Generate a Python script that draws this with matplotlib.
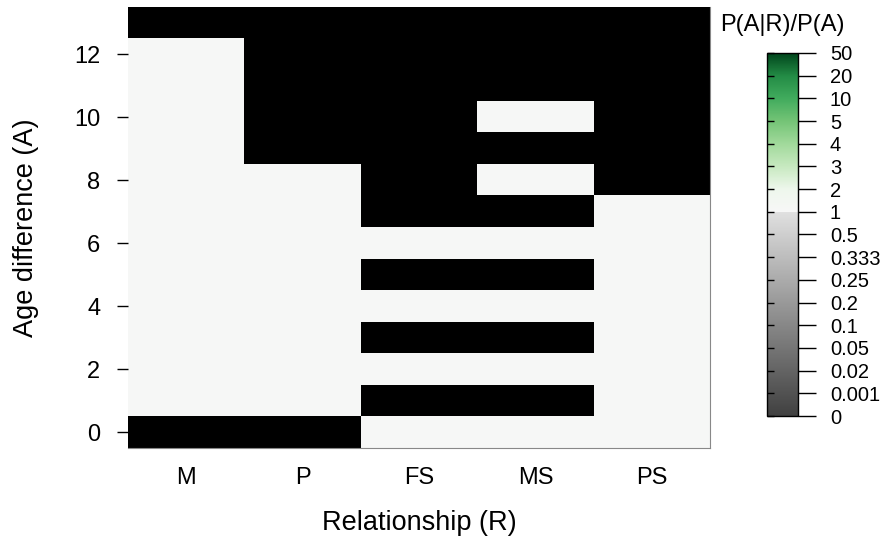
import matplotlib
matplotlib.use("Agg")
import matplotlib.pyplot as plt
import numpy as np
from matplotlib.colors import FuncNorm, LinearSegmentedColormap
from matplotlib.cm import ScalarMappable
from matplotlib.ticker import FixedLocator

plt.rcParams["font.family"] = ["Liberation Sans", "DejaVu Sans"]

relationships = ["M", "P", "FS", "MS", "PS"]
age_diff = list(range(14))

# P(A|R)/P(A) per relationship, age difference 0..13; 0 = never observed
ratio_M = [0, 1, 1, 1, 1, 1, 1, 1, 1, 1, 1, 1, 1, 0]
ratio_P = [0, 1, 1, 1, 1, 1, 1, 1, 1, 0, 0, 0, 0, 0]
ratio_FS = [1, 0, 1, 0, 1, 0, 1, 0, 0, 0, 0, 0, 0, 0]
ratio_MS = [1, 0, 1, 0, 1, 0, 1, 0, 1, 0, 1, 0, 0, 0]
ratio_PS = [1, 1, 1, 1, 1, 1, 1, 1, 0, 0, 0, 0, 0, 0]

cbar_levels = [0, 0.001, 0.02, 0.05, 0.1, 0.2, 0.25, 0.333, 0.5,
               1, 2, 3, 4, 5, 10, 20, 50]
cbar_labels = ["0", "0.001", "0.02", "0.05", "0.1", "0.2", "0.25", "0.333", "0.5",
               "1", "2", "3", "4", "5", "10", "20", "50"]

matrix = np.array([ratio_M, ratio_P, ratio_FS, ratio_MS, ratio_PS], dtype=float).T
# zero-probability cells are drawn solid black
matrix[matrix == 0] = np.nan

# colour scale is evenly spaced over the listed levels
idx = np.arange(len(cbar_levels), dtype=float)
norm = FuncNorm((lambda v: np.interp(v, cbar_levels, idx),
                 lambda i: np.interp(i, idx, cbar_levels)),
                vmin=cbar_levels[0], vmax=cbar_levels[-1])
split = 9 / 16
cmap = LinearSegmentedColormap.from_list("ratio", [
    (0.0, "#404040"), (split - 0.001, "#e0e0e0"),
    (split, "#f7f7f7"), (10 / 16, "#eef7ec"), (11 / 16, "#c7e9c0"),
    (12 / 16, "#a1d99b"), (13 / 16, "#74c476"), (14 / 16, "#41ab5d"),
    (15 / 16, "#238b45"), (1.0, "#00441b"),
], N=1024)
cmap.set_bad("black")

fig = plt.figure(figsize=(8.81, 5.39), dpi=100)
ax = fig.add_axes([0.1453, 0.1688, 0.6606, 0.8182])
ax.imshow(matrix, cmap=cmap, norm=norm, origin="lower", aspect="auto",
          interpolation="nearest")
ax.set_xticks(range(len(relationships)))
ax.set_xticklabels(relationships)
ax.set_yticks(age_diff[::2])
ax.tick_params(axis="x", length=0, pad=14, labelsize=17)
ax.tick_params(axis="y", length=8, width=1, pad=12, labelsize=17)
ax.set_xlabel("Relationship (R)", fontsize=19.5, labelpad=15)
ax.set_ylabel("Age difference (A)", fontsize=19.5, labelpad=25)
for side in ["top", "left"]:
    ax.spines[side].set_visible(False)
for side in ["right", "bottom"]:
    ax.spines[side].set_color("#888888")
    ax.spines[side].set_linewidth(0.8)

cax = fig.add_axes([0.8706, 0.2282, 0.035, 0.6735])
cb = fig.colorbar(ScalarMappable(norm=norm, cmap=cmap), cax=cax, ticks=cbar_levels)
cb.set_ticklabels(cbar_labels)
cb.outline.set_linewidth(1)
cax.tick_params(axis="y", which="major", direction="out", length=13, width=1,
                pad=10, labelsize=14.5)
# short inner ticks on the left edge of the bar
cax.yaxis.remove_overlapping_locs = False
cax.yaxis.set_minor_locator(FixedLocator(cbar_levels))
cax.tick_params(axis="y", which="minor", left=True, right=False, direction="in",
                length=5, width=1)
fig.text(0.888, 0.954, "P(A|R)/P(A)", ha="center", va="center", fontsize=17)

fig.savefig("out.png", dpi=100)
